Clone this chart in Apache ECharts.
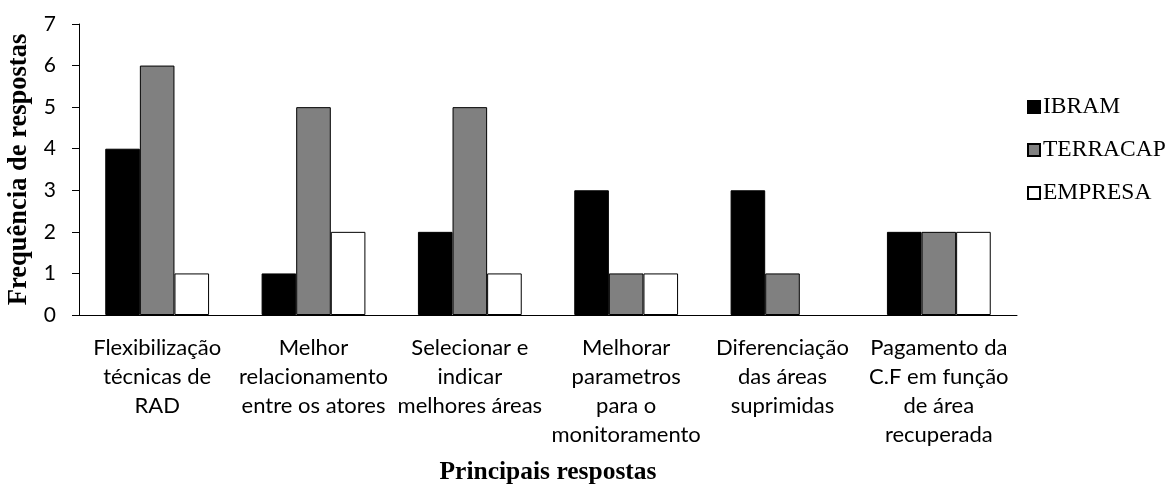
<!DOCTYPE html>
<html>
<head>
<meta charset="utf-8">
<script src="https://cdn.jsdelivr.net/npm/echarts@6/dist/echarts.min.js"></script>
<style>
  html, body { margin: 0; padding: 0; background: #fff; }
  #chart { width: 1168px; height: 485px; }
</style>
</head>
<body>
<div id="chart"></div>
<script>
// Category labels (line breaks as printed under each group)
const categories = [
  'Flexibilização\ntécnicas de\nRAD',
  'Melhor\nrelacionamento\nentre os atores',
  'Selecionar e\nindicar\nmelhores áreas',
  'Melhorar\nparametros\npara o\nmonitoramento',
  'Diferenciação\ndas áreas\nsuprimidas',
  'Pagamento da\nC.F em função\nde área\nrecuperada'
];

const seriesNames = ['IBRAM', 'TERRACAP', 'EMPRESA'];
const ibram    = [4, 1, 2, 3, 3, 2];
const terracap = [6, 5, 5, 1, 1, 2];
const empresa  = [1, 2, 1, 1, 0, 2];

const yTicks = [0, 1, 2, 3, 4, 5, 6, 7];
const fills = ['#000000', '#808080', '#ffffff'];

const sansFont = 'Lato';
const serifFont = '"Liberation Serif", "Times New Roman", serif';

const chart = echarts.init(document.getElementById('chart'), null, { renderer: 'canvas' });

const values = [ibram, terracap, empresa];

// zero-height bars get no outline so nothing is drawn on the baseline
const toItems = arr => arr.map(v => v === 0 ? { value: v, itemStyle: { borderWidth: 0 } } : v);

chart.setOption({
  animation: false,
  backgroundColor: '#ffffff',
  grid: { left: 79, top: 24, right: 151, bottom: 170, containLabel: false, outerBoundsMode: 'none' },
  legend: {
    orient: 'vertical',
    left: 1022,
    top: 90,
    itemWidth: 12,
    itemHeight: 12,
    itemGap: 19,
    icon: 'rect',
    textStyle: { fontFamily: serifFont, fontSize: 23.5, color: '#000', lineHeight: 24, padding: [0, 0, 0, -2] },
    data: seriesNames
  },
  xAxis: {
    type: 'category',
    data: categories,
    name: 'Principais respostas',
    nameLocation: 'middle',
    nameGap: 157,
    nameTextStyle: { fontFamily: serifFont, fontWeight: 'bold', fontSize: 25.5, color: '#000', verticalAlign: 'middle' },
    axisLine: { show: true, lineStyle: { color: '#000', width: 1 } },
    axisTick: { show: false },
    axisLabel: {
      interval: 0,
      margin: 18,
      fontFamily: sansFont,
      fontSize: 22,
      lineHeight: 29,
      color: '#000',
      align: 'center',
      verticalAlign: 'top'
    },
    splitLine: { show: false }
  },
  yAxis: {
    type: 'value',
    min: yTicks[0],
    max: yTicks[yTicks.length - 1],
    interval: 1,
    name: 'Frequência de respostas',
    nameLocation: 'middle',
    nameRotate: 90,
    nameGap: 56,
    nameTextStyle: { fontFamily: serifFont, fontWeight: 'bold', fontSize: 26.5, color: '#000', verticalAlign: 'middle' },
    axisLine: { show: true, lineStyle: { color: '#000', width: 1 } },
    axisTick: { show: true, length: 7, inside: false, lineStyle: { color: '#000', width: 1 } },
    axisLabel: { margin: 23, fontFamily: sansFont, fontSize: 21, color: '#000' },
    splitLine: { show: false }
  },
  series: seriesNames.map((name, i) => ({
    name: name,
    type: 'bar',
    data: toItems(values[i]),
    barGap: '0%',
    barCategoryGap: '33.6%',
    itemStyle: { color: fills[i], borderColor: '#000', borderWidth: 1 }
  }))
});
</script>
</body>
</html>
